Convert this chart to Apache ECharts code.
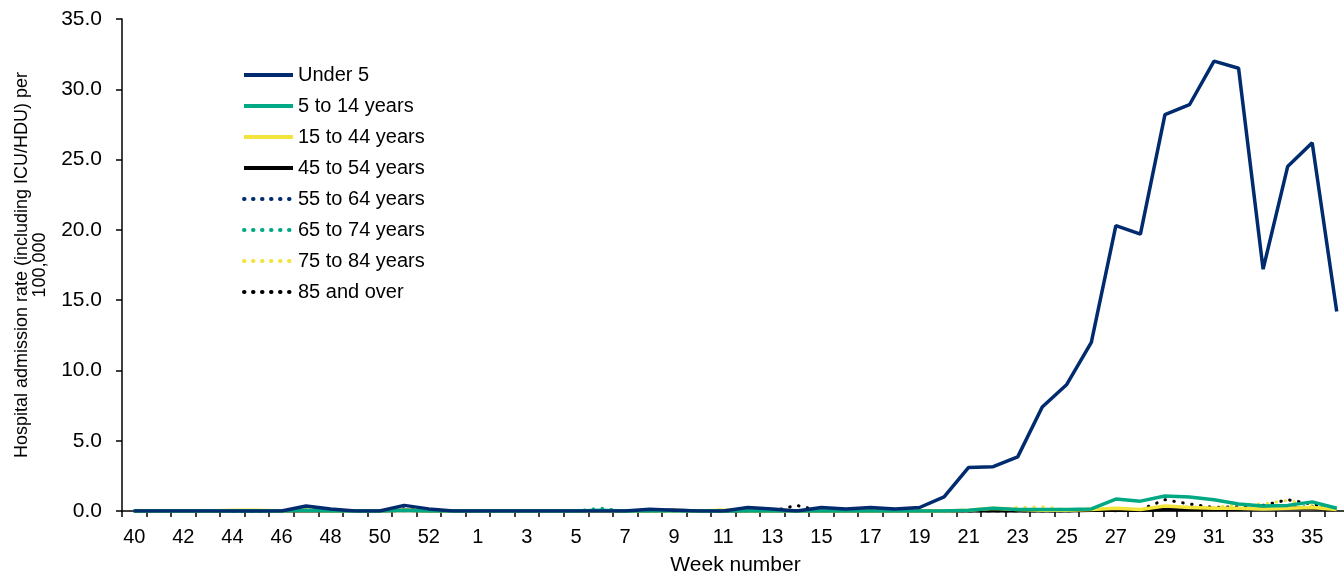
<!DOCTYPE html>
<html>
<head>
<meta charset="utf-8">
<script src="https://cdn.jsdelivr.net/npm/echarts@6/dist/echarts.min.js"></script>
<style>
html,body{margin:0;padding:0;background:#fff;overflow:hidden;}
#chart{width:1344px;height:576px;}
</style>
</head>
<body>
<div id="chart"></div>
<script>
const weeks = ['40','41','42','43','44','45','46','47','48','49','50','51','52','53',
  '1','2','3','4','5','6','7','8','9','10','11','12','13','14','15','16','17','18','19','20',
  '21','22','23','24','25','26','27','28','29','30','31','32','33','34','35','36'];

const under5 = [0,0,0,0,0,0,0,0.35,0.15,0,0,0.4,0.15,0,
  0,0,0,0,0,0,0,0.12,0.05,0,0,0.25,0.15,0,0.25,0.15,0.25,0.15,0.25,1.0,
  3.1,3.15,3.85,7.4,9.0,12.0,20.3,19.7,28.2,28.9,32.0,31.5,17.2,24.5,26.2,14.2];
const age5to14 = [0,0,0,0,0,0,0,0.05,0,0,0,0.05,0,0,
  0,0,0,0,0,0.05,0,0,0,0,0,0,0,0,0,0,0,0,0,0,
  0.05,0.2,0.1,0.1,0.1,0.15,0.85,0.7,1.07,1.0,0.8,0.5,0.35,0.4,0.65,0.2];
const age15to44 = [0,0,0,0,0.05,0.05,0,0.05,0,0,0,0.05,0,0,
  0,0,0,0,0,0,0,0,0,0,0.05,0,0,0,0,0,0,0,0,0,
  0.05,0.2,0.1,0.05,0.05,0.1,0.2,0.1,0.35,0.25,0.2,0.2,0.15,0.2,0.25,0.1];
const age45to54 = [0,0,0,0,0,0,0,0,0,0,0,0.05,0,0,
  0,0,0,0,0,0,0,0,0.05,0,0,0,0,0,0,0,0,0,0,0,
  0,0,0,0,0,0.05,0.05,0.05,0.1,0.1,0.1,0.15,0.2,0.2,0.2,0.1];
const age55to64 = [0,0,0,0,0,0,0,0.05,0,0,0,0.05,0,0,
  0,0,0,0,0,0,0,0,0,0,0,0,0,0,0,0,0,0,0,0,
  0,0,0,0,0,0.1,0,0.05,0.1,0.15,0.1,0.1,0.2,0.3,0.2,0.1];
const age65to74 = [0,0,0,0,0,0,0,0.05,0,0,0,0,0,0,
  0,0,0,0,0,0.2,0,0,0,0,0,0,0,0,0,0,0,0,0,0,
  0,0,0,0,0,0.05,0.05,0.1,0.15,0.15,0.1,0.15,0.25,0.3,0.3,0.15];
const age75to84 = [0,0,0,0,0,0,0,0.15,0,0,0,0.1,0,0,
  0,0,0,0,0,0,0,0,0,0,0.1,0,0,0,0,0,0,0,0,0,
  0,0.1,0.25,0.3,0.1,0.2,0.1,0.1,0.2,0.3,0.25,0.45,0.5,0.75,0.4,0.1];
const age85plus = [0,0,0,0,0,0,0,0.2,0,0,0,0.35,0.1,0,
  0,0,0,0,0,0,0,0,0,0,0,0,0,0.4,0,0,0,0,0,0,
  0,0,0,0,0,0.05,0.1,0.1,0.8,0.5,0.25,0.3,0.4,0.8,0.5,0.15];

const yTicks = [0,5,10,15,20,25,30,35];

const NAVY = '#002b6e', TEAL = '#00a884', YELLOW = '#f2e43a', BLACK = '#000000';
const FONT = 'Liberation Sans, Arial, sans-serif';

function solid(name, data, color, z) {
  return {name, type:'line', data, symbol:'none', z,
    lineStyle:{color, width:3.5, type:'solid'}, itemStyle:{color}};
}
function dotted(name, data, color, z) {
  return {name, type:'line', data, symbol:'none', z,
    lineStyle:{color, width:3, type:[0.5,8.5], cap:'round'}, itemStyle:{color}};
}

const chart = echarts.init(document.getElementById('chart'), null, {renderer:'canvas'});
chart.setOption({
  animation:false,
  backgroundColor:'#fff',
  textStyle:{fontFamily:FONT},
  grid:{left:122, right:-5, top:19, bottom:65, containLabel:false, outerBoundsMode:'none'},
  legend:{
    orient:'vertical', left:237, top:60, itemWidth:49, itemHeight:14, itemGap:11,
    itemStyle:{opacity:0},
    lineStyle:{width:4},
    textStyle:{fontSize:20, color:'#000', fontFamily:FONT},
    data:['Under 5','5 to 14 years','15 to 44 years','45 to 54 years','55 to 64 years','65 to 74 years','75 to 84 years','85 and over']
  },
  xAxis:{
    type:'category', data:weeks, boundaryGap:true,
    name:'Week number', nameLocation:'middle', nameGap:44,
    nameTextStyle:{fontSize:21, color:'#000'},
    axisLine:{lineStyle:{color:'#000', width:1.5}},
    axisTick:{show:true, interval:0, length:6, alignWithLabel:false, lineStyle:{color:'#000', width:1.5}},
    axisLabel:{interval:1, fontSize:20, color:'#000', margin:16},
    splitLine:{show:false}
  },
  yAxis:{
    type:'value', min:yTicks[0], max:yTicks[yTicks.length-1], interval:5,
    name:'Hospital admission rate (including ICU/HDU) per\n100,000',
    nameLocation:'middle', nameGap:73, nameRotate:90,
    nameTextStyle:{fontSize:18, color:'#000', lineHeight:18},
    axisLine:{show:true, lineStyle:{color:'#000', width:1.5}},
    axisTick:{show:true, length:6, lineStyle:{color:'#000', width:1.5}},
    axisLabel:{fontSize:21, color:'#000', margin:20, formatter:v=>v.toFixed(1)},
    splitLine:{show:false}
  },
  series:[
    solid('Under 5', under5, NAVY, 10),
    solid('5 to 14 years', age5to14, TEAL, 9),
    solid('15 to 44 years', age15to44, YELLOW, 8),
    solid('45 to 54 years', age45to54, BLACK, 7),
    dotted('55 to 64 years', age55to64, NAVY, 6),
    dotted('65 to 74 years', age65to74, TEAL, 5),
    dotted('75 to 84 years', age75to84, YELLOW, 4),
    dotted('85 and over', age85plus, BLACK, 3)
  ]
});
</script>
</body>
</html>
